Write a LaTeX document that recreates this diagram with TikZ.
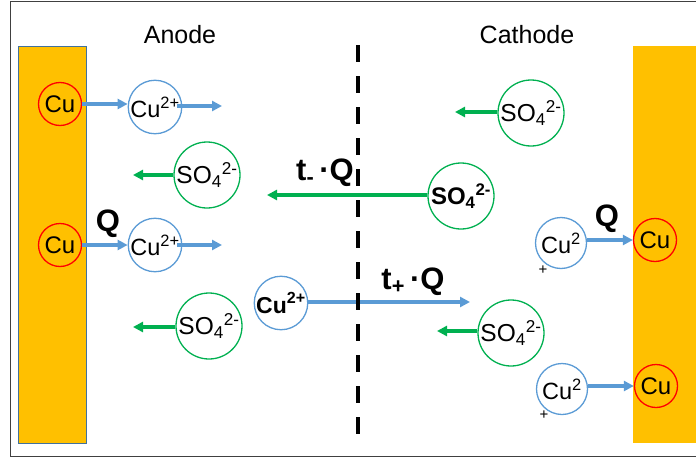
\documentclass[tikz,border=0pt]{standalone}
\usepackage{fontspec}
\setmainfont{Liberation Sans}
\usetikzlibrary{arrows.meta}
\definecolor{elec}{HTML}{FFC000}
\definecolor{ionblue}{HTML}{5B9BD5}
\definecolor{iongreen}{HTML}{00B050}
\definecolor{cured}{HTML}{FF0000}
\definecolor{elecborder}{HTML}{41719C}
\definecolor{framegray}{HTML}{404040}
\tikzset{
 atom/.style={circle,draw=cured,line width=1.3pt,minimum size=43pt,inner sep=0pt,font=\fontsize{24}{26}\selectfont},
 cation/.style={circle,draw=ionblue,line width=1.3pt,minimum size=51pt,inner sep=0pt,font=\fontsize{23.5}{26}\selectfont},
 anion/.style={circle,draw=iongreen,line width=1.3pt,minimum size=66pt,inner sep=0pt,font=\fontsize{24.5}{26}\selectfont},
 bluearrow/.style={draw=ionblue,line width=3.3pt,-{Triangle[length=10pt,width=10pt]}},
 greenarrow/.style={draw=iongreen,line width=3.2pt,-{Triangle[length=10pt,width=10pt]}},
 biglabel/.style={font=\fontsize{31}{32}\selectfont\bfseries},
 heading/.style={font=\fontsize{25}{27}\selectfont},
 plussign/.style={font=\fontsize{15}{16}\selectfont,inner sep=0pt},
 electrode/.style={fill=elec},
 divider/.style={line width=3.5pt,dash pattern=on 17pt off 14pt},
}
\begin{document}
\begin{tikzpicture}[x=1pt,y=-1pt]
\useasboundingbox (0,0) rectangle (696,463);
% frame
\draw[framegray,line width=1pt] (697,1.5) -- (10.5,1.5) -- (10.5,456) -- (697,456);
% electrodes
\fill[electrode] (633,46) rectangle (697,443);
\draw[electrode,draw=elecborder,line width=0.8pt] (18,46) rectangle (86,443);
% headings
\node[heading] (anode) at (180,35) {Anode};
\node[heading] (cathode) at (527,35) {Cathode};
% anode side
\node[atom] (cuL1) at (60,104) {Cu};
\node[atom] (cuL2) at (60,245) {Cu};
\node[cation] (ionL1) at (155,107) {Cu\textsuperscript{2+}};
\node[cation] (ionL2) at (155,245) {Cu\textsuperscript{2+}};
\coordinate (eL1) at (222,106);
\coordinate (eL2) at (222,245);
\draw[bluearrow] (cuL1.east) -- (ionL1.west |- cuL1.east);
\draw[bluearrow] ([xshift=-5pt]ionL1.east |- eL1) -- (eL1);
\draw[bluearrow] (cuL2.east) -- (ionL2.west |- cuL2.east);
\draw[bluearrow] ([xshift=-5pt]ionL2.east |- eL2) -- (eL2);
\node[biglabel] (qL) at (108,224) {Q};
\node[anion] (soL1) at (207,175) {SO\textsubscript{4}\textsuperscript{2-}};
\coordinate (eS1) at (133,175);
\draw[greenarrow] (soL1.west) -- (eS1);
\node[anion] (soL2) at (209,326) {SO\textsubscript{4}\textsuperscript{2-}};
\coordinate (eS2) at (133,327);
\draw[greenarrow] (soL2.west |- eS2) -- (eS2);
% middle migration
\node[anion,font=\fontsize{24}{26}\selectfont\bfseries] (soM) at (461,196) {SO\textsubscript{4}\textsuperscript{2-}};
\coordinate (eSM) at (267,195);
\draw[greenarrow] (soM.west |- eSM) -- (eSM);
\node[biglabel] (tminus) at (325,173) {t\textsubscript{-}\,·Q};
\node[cation,font=\fontsize{23}{26}\selectfont\bfseries] (cuM) at (281,303) {Cu\textsuperscript{2+}};
\coordinate (eCM) at (470,302);
\draw[bluearrow] (cuM.east |- eCM) -- (eCM);
\node[biglabel] (tplus) at (413,282) {t\textsubscript{+}\,·Q};
% cathode side
\node[anion] (soR1) at (531,113) {SO\textsubscript{4}\textsuperscript{2-}};
\coordinate (eR1) at (455,112);
\draw[greenarrow] (soR1.west |- eR1) -- (eR1);
\node[anion] (soR2) at (511,333) {SO\textsubscript{4}\textsuperscript{2-}};
\coordinate (eR2) at (437,331);
\draw[greenarrow] (soR2.west |- eR2) -- (eR2);
\node[cation] (cuR1) at (561,243) {Cu\textsuperscript{2}};
\node[plussign] (pR1) at (543,270) {+};
\node[atom] (cuRR1) at (655,240) {Cu};
\draw[bluearrow] (cuR1.east |- cuRR1.west) -- (cuRR1.west);
\node[biglabel] (qR) at (607,219) {Q};
\node[cation] (cuR2) at (562,389) {Cu\textsuperscript{2}};
\node[plussign] (pR2) at (544,415) {+};
\node[atom] (cuRR2) at (656,386) {Cu};
\draw[bluearrow] (cuR2.east |- cuRR2.west) -- (cuRR2.west);
% divider
\coordinate (dtop) at (358,45);
\coordinate (dbot) at (358,440);
\draw[divider] (dtop) -- (dbot);
\end{tikzpicture}
\end{document}
